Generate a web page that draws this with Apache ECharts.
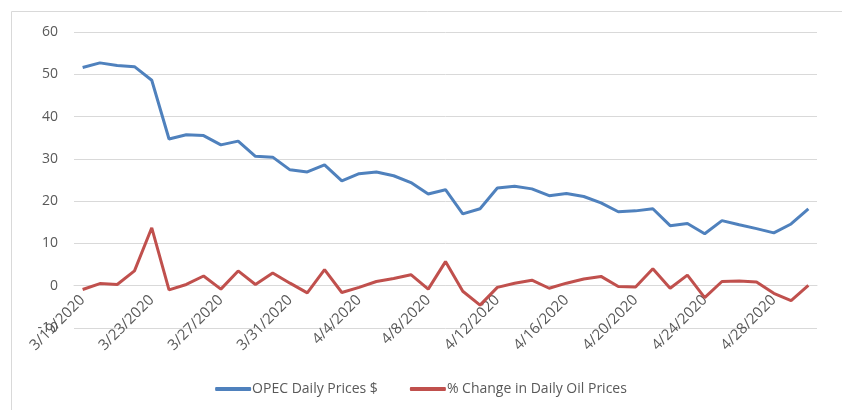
<!DOCTYPE html>
<html>
<head>
<meta charset="utf-8">
<script src="https://cdn.jsdelivr.net/npm/echarts@6/dist/echarts.min.js"></script>
<style>
  html, body { margin: 0; padding: 0; background: #fff; }
  #main { width: 842px; height: 410px; }
</style>
</head>
<body>
<div id="main"></div>
<script>
// dates, one per day
var dates = ["3/19/2020", "3/20/2020", "3/21/2020", "3/22/2020", "3/23/2020", "3/24/2020", "3/25/2020",
    "3/26/2020", "3/27/2020", "3/28/2020", "3/29/2020", "3/30/2020", "3/31/2020", "4/1/2020",
    "4/2/2020", "4/3/2020", "4/4/2020", "4/5/2020", "4/6/2020", "4/7/2020", "4/8/2020",
    "4/9/2020", "4/10/2020", "4/11/2020", "4/12/2020", "4/13/2020", "4/14/2020", "4/15/2020",
    "4/16/2020", "4/17/2020", "4/18/2020", "4/19/2020", "4/20/2020", "4/21/2020", "4/22/2020",
    "4/23/2020", "4/24/2020", "4/25/2020", "4/26/2020", "4/27/2020", "4/28/2020", "4/29/2020",
    "4/30/2020"];
var opecPrices = [51.6, 52.7, 52.1, 51.8, 48.6, 34.7, 35.7, 35.5, 33.3, 34.2, 30.6, 30.4, 27.4, 26.9,
    28.6, 24.8, 26.5, 26.9, 26.0, 24.4, 21.7, 22.7, 17.0, 18.2, 23.1, 23.5, 22.9, 21.3,
    21.8, 21.1, 19.6, 17.5, 17.7, 18.2, 14.2, 14.7, 12.3, 15.4, 14.4, 13.5, 12.5, 14.6,
    18.2];
var pctChange = [-0.9, 0.5, 0.3, 3.5, 13.7, -1.0, 0.3, 2.3, -0.8, 3.5, 0.3, 3.0, 0.6, -1.7,
    3.8, -1.6, -0.4, 1.0, 1.7, 2.6, -0.8, 5.7, -1.3, -4.6, -0.4, 0.6, 1.3, -0.6,
    0.6, 1.6, 2.2, -0.2, -0.3, 4.0, -0.6, 2.5, -2.8, 1.0, 1.1, 0.9, -1.8, -3.5,
    0.1];

var chart = echarts.init(document.getElementById('main'));

var gridTop = 32, gridBottom = 82, yMin = -10, yMax = 60;
var plotH = 410 - gridTop - gridBottom;
// category axis crosses at 0 (like Excel): shift the whole axis up from the grid bottom
var zeroOffset = -plotH * (0 - yMin) / (yMax - yMin);

var option = {
    animation: false,
    textStyle: { fontFamily: 'Open Sans' },
    graphic: [{
        type: 'rect',
        shape: { x: 11.5, y: 11.5, width: 840, height: 420 },
        style: { fill: null, stroke: '#D9D9D9', lineWidth: 1 },
        silent: true
    }],
    legend: {
        bottom: 9,
        left: 'center',
        itemGap: 32,
        itemWidth: 36,
        itemHeight: 4,
        icon: 'roundRect',
        textStyle: { color: '#595959', fontSize: 14, padding: [0, 0, 0, -4] },
        data: ['OPEC Daily Prices $', '% Change in Daily Oil Prices']
    },
    grid: {
        left: 74,
        right: 25,
        top: gridTop,
        bottom: gridBottom
    },
    xAxis: {
        type: 'category',
        boundaryGap: true,
        data: dates,
        offset: zeroOffset,
        axisLine: { onZero: false, lineStyle: { color: '#D9D9D9', width: 1 } },
        axisTick: { interval: 3, length: 5, lineStyle: { color: '#D9D9D9' } },
        axisLabel: {
            interval: 3,
            rotate: 45,
            color: '#595959',
            fontSize: 15,
            margin: 12
        }
    },
    yAxis: {
        type: 'value',
        min: yMin,
        max: yMax,
        interval: 10,
        axisLine: { show: false },
        axisTick: { show: false },
        axisLabel: { color: '#595959', fontSize: 14, margin: 16 },
        splitLine: { lineStyle: { color: '#D9D9D9', width: 1 } }
    },
    series: [
        {
            name: 'OPEC Daily Prices $',
            type: 'line',
            data: opecPrices,
            showSymbol: false,
            symbol: 'none',
            color: '#4F81BD',
            lineStyle: { width: 3, color: '#4F81BD' }
        },
        {
            name: '% Change in Daily Oil Prices',
            type: 'line',
            data: pctChange,
            showSymbol: false,
            symbol: 'none',
            color: '#C0504D',
            lineStyle: { width: 3, color: '#C0504D' }
        }
    ]
};

chart.setOption(option);
</script>
</body>
</html>
